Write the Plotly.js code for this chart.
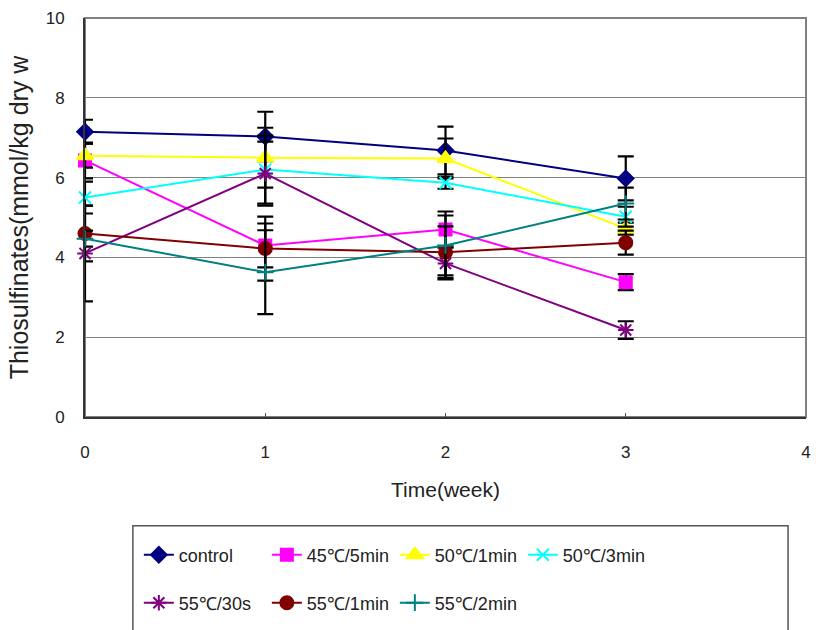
<!DOCTYPE html>
<html>
<head>
<meta charset="utf-8">
<script src="https://cdn.plot.ly/plotly-3.0.1.min.js"></script>
<style>html,body{margin:0;padding:0;background:#fff;}#chart{width:816px;height:630px;}</style>
</head>
<body>
<div id="chart"></div>
<script>
const weeks = [0, 1, 2, 3];
const seriesNames = ["control", "45℃/5min", "50℃/1min", "50℃/3min", "55℃/30s", "55℃/1min", "55℃/2min"];
const control = [7.15, 7.03, 6.68, 5.98];
const controlErr = [0.30, 0.62, 0.60, 0.55];
const t45_5min = [6.43, 4.30, 4.70, 3.38];
const t45_5minErr = [0.45, 0.55, 0.45, 0.20];
const t50_1min = [6.55, 6.50, 6.48, 4.72];
const t50_1minErr = [0.30, 0.75, 0.50, 0.15];
const t50_3min = [5.50, 6.20, 5.87, 5.02];
const t50_3minErr = [0.40, 0.85, 0.15, 0.25];
const t55_30s = [4.10, 6.10, 3.85, 2.18];
const t55_30sErr = [1.20, 0.80, 0.40, 0.22];
const t55_1min = [4.60, 4.22, 4.13, 4.37];
const t55_1minErr = [0.70, 0.80, 0.65, 0.30];
const t55_2min = [4.47, 3.63, 4.30, 5.35];
const t55_2minErr = [0.20, 1.05, 0.75, 0.40];
const xTicks = [0, 1, 2, 3, 4];
const yTicks = [0, 2, 4, 6, 8, 10];

const values = [control, t45_5min, t50_1min, t50_3min, t55_30s, t55_1min, t55_2min];
const errs = [controlErr, t45_5minErr, t50_1minErr, t50_3minErr, t55_30sErr, t55_1minErr, t55_2minErr];
const colors = ["#000080", "#FF00FF", "#FFFF00", "#00FFFF", "#800080", "#800000", "#008080"];
const symbols = ["diamond", "square", "triangle-up", "x-thin-open", "asterisk-open", "circle", "cross-thin-open"];
const sizes = [12, 12, 14, 12, 13, 13, 12];
const legends = ["legend", "legend", "legend", "legend", "legend2", "legend2", "legend2"];

const traces = values.map((v, i) => ({
  type: "scatter",
  mode: "lines+markers",
  name: seriesNames[i],
  x: weeks,
  y: v,
  legend: legends[i],
  cliponaxis: false,
  line: {color: colors[i], width: 2},
  marker: {symbol: symbols[i], color: colors[i], size: sizes[i], line: {color: colors[i], width: 2}},
  error_y: {type: "data", array: errs[i], symmetric: true, color: "#000000", thickness: 2.2, width: 8}
}));

const font = "Liberation Sans, Arial, sans-serif";
const legendCommon = {
  orientation: "h",
  xanchor: "left",
  yanchor: "middle",
  bgcolor: "rgba(0,0,0,0)",
  borderwidth: 0,
  entrywidth: 83,
  entrywidthmode: "pixels",
  font: {family: font, size: 18, color: "#222"},
  itemclick: false
};

const layout = {
  width: 816,
  height: 630,
  margin: {l: 85, r: 10, t: 18, b: 212},
  paper_bgcolor: "#ffffff",
  plot_bgcolor: "#ffffff",
  showlegend: true,
  xaxis: {
    range: [0, 4],
    tickvals: xTicks,
    ticktext: xTicks.map(String),
    automargin: false,
    showgrid: false,
    zeroline: false,
    showline: true,
    linecolor: "#333",
    linewidth: 2,
    ticks: "inside",
    ticklen: 4,
    tickcolor: "#555",
    ticklabelstandoff: 19,
    tickfont: {family: font, size: 17, color: "#222"},
    title: {text: "Time(week)", font: {family: font, size: 21, color: "#222"}, standoff: 21}
  },
  yaxis: {
    range: [0, 10],
    tickvals: yTicks,
    ticktext: yTicks.map(String),
    automargin: false,
    showgrid: true,
    gridcolor: "#808080",
    gridwidth: 1,
    zeroline: false,
    showline: true,
    linecolor: "#333",
    linewidth: 2,
    ticks: "",
    ticklabelstandoff: 15,
    tickfont: {family: font, size: 17, color: "#222"},
    title: {text: "Thiosulfinates(mmol/kg dry w", font: {family: font, size: 25, color: "#222"}, standoff: 10}
  },
  legend: Object.assign({}, legendCommon, {x: (139 - 85) / 723, y: (418 - 555) / 400}),
  legend2: Object.assign({}, legendCommon, {x: (139 - 85) / 723, y: (418 - 603) / 400}),
  shapes: [
    {type: "rect", xref: "paper", yref: "paper", x0: 0, x1: 1, y0: 0, y1: 1,
     line: {color: "#808080", width: 2}, layer: "below"},
    {type: "rect", xref: "paper", yref: "paper",
     x0: (133 - 85) / 723, x1: (790 - 85) / 723, y0: (418 - 527) / 400, y1: (418 - 660) / 400,
     line: {color: "#555", width: 1.5}}
  ]
};

Plotly.newPlot("chart", traces, layout, {staticPlot: true, displayModeBar: false});
</script>
</body>
</html>
